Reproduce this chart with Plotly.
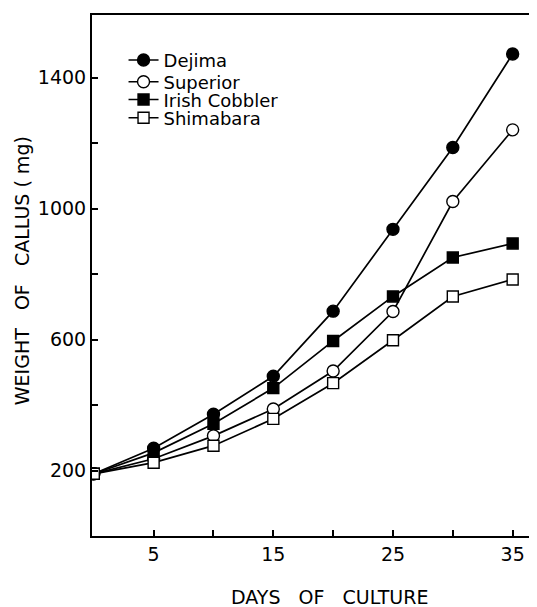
import plotly.graph_objects as go

days = [0, 5, 10, 15, 20, 25, 30, 35]
dejima = [190, 268, 372, 488, 687, 937, 1187, 1473]
superior = [190, 236, 306, 388, 504, 686, 1022, 1241]
irish_cobbler = [190, 254, 343, 452, 596, 732, 851, 894]
shimabara = [190, 224, 276, 358, 467, 598, 732, 784]

x_tick_vals = [5, 15, 25, 35]
x_minor_vals = [10, 20, 30]
y_tick_vals = [200, 600, 1000, 1400]
y_minor_vals = [400, 800, 1200]

FONT = "DejaVu Sans"

series = [
    ("Dejima", dejima, "circle", "black", "legend"),
    ("Superior", superior, "circle", "white", "legend2"),
    ("Irish Cobbler", irish_cobbler, "square", "black", "legend3"),
    ("Shimabara", shimabara, "square", "white", "legend4"),
]

fig = go.Figure()
for name, vals, sym, fill, lg in series:
    fig.add_trace(go.Scatter(
        x=days, y=vals, name=name, mode="lines+markers", legend=lg,
        line=dict(color="black", width=1.7),
        marker=dict(symbol=sym, size=12 if sym == "circle" else 11, color=fill,
                    line=dict(color="black", width=1.4)),
    ))

def leg(ypos):
    return dict(x=0.072, y=ypos, xanchor="left", yanchor="top",
                bgcolor="rgba(0,0,0,0)", font=dict(size=18, family=FONT),
                itemwidth=30)

# page is offset by the 8px body margin, so figure is 8px smaller
fig.update_layout(
    width=529, height=599,
    margin=dict(l=84, r=7, t=5, b=71),
    paper_bgcolor="white", plot_bgcolor="white",
    font=dict(family=FONT, color="black", size=19),
    showlegend=True,
    legend=leg(0.9486),
    legend2=leg(0.9068),
    legend3=leg(0.8727),
    legend4=leg(0.8377),
    annotations=[
        dict(text="WEIGHT   OF   CALLUS ( mg)", xref="paper", yref="paper",
             x=-0.16, y=0.51, textangle=-90, showarrow=False,
             font=dict(size=19, family=FONT), xanchor="center", yanchor="middle"),
        dict(text="DAYS   OF   CULTURE", xref="paper", yref="paper",
             x=0.543, y=-0.117, showarrow=False,
             font=dict(size=19, family=FONT), xanchor="center", yanchor="middle"),
    ],
)

fig.update_xaxes(
    range=[-0.15, 36.45], showgrid=False, zeroline=False,
    showline=True, linecolor="black", linewidth=2, mirror=True,
    tickmode="array", tickvals=x_tick_vals, ticktext=[str(v) for v in x_tick_vals],
    ticks="inside", ticklen=6, tickwidth=2, tickcolor="black",
    minor=dict(tickmode="array", tickvals=x_minor_vals, ticks="inside", ticklen=6,
               tickwidth=2, tickcolor="black", showgrid=False),
    tickfont=dict(size=19, family=FONT),
)
fig.update_yaxes(
    range=[0, 1592], showgrid=False, zeroline=False,
    showline=True, linecolor="black", linewidth=2,
    tickmode="array", tickvals=y_tick_vals, ticktext=[str(v) for v in y_tick_vals],
    ticks="inside", ticklen=6, tickwidth=2, tickcolor="black",
    minor=dict(tickmode="array", tickvals=y_minor_vals, ticks="inside", ticklen=6,
               tickwidth=2, tickcolor="black", showgrid=False),
    tickfont=dict(size=19, family=FONT),
)

fig.write_html("out.html")
